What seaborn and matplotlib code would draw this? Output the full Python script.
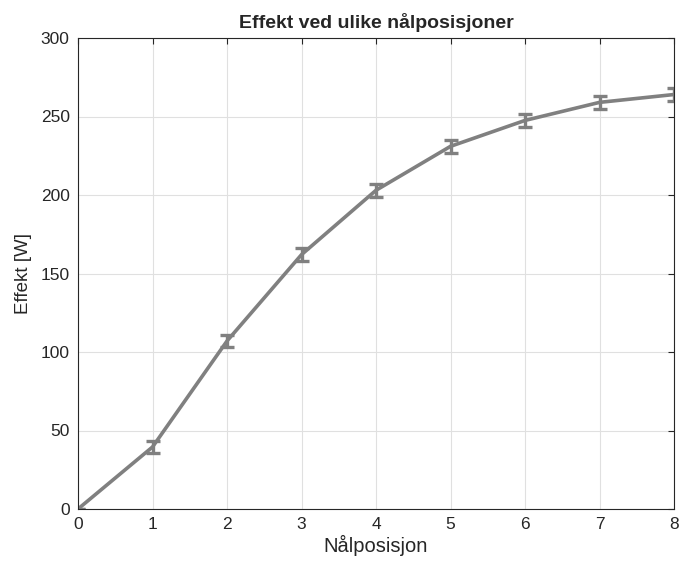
import matplotlib
matplotlib.use("Agg")
import matplotlib.pyplot as plt
import seaborn as sns
import pandas as pd

positions = [0, 1, 2, 3, 4, 5, 6, 7, 8]
power = [0, 39.5, 107, 162, 203, 231, 247.5, 259, 264]
error = [0, 4, 4, 4, 4, 4, 4, 4, 4]

df = pd.DataFrame({"pos": positions, "P": power, "err": error})

sns.set_style("whitegrid")
plt.rcParams['font.family'] = ['Liberation Sans', 'DejaVu Sans']

fig = plt.figure(figsize=(6.81, 5.68), dpi=100)
ax = fig.add_axes([78/681, 1-509/568, (674-78)/681, (509-38)/568])

line_color = (0.5, 0.5, 0.5)
sns.lineplot(data=df, x="pos", y="P", ax=ax, color=line_color, linewidth=2.6)
ax.errorbar(df["pos"], df["P"], yerr=df["err"], fmt="none", ecolor=line_color,
            elinewidth=2.4, capsize=5, capthick=2.4)

ax.set_xlim(0, 8)
ax.set_ylim(0, 300)
ax.set_xticks(range(0, 9))
ax.set_yticks(range(0, 301, 50))
ax.grid(True, color=(0.88, 0.88, 0.88), linewidth=0.8)
for s in ax.spines.values():
    s.set_visible(True)
    s.set_color((0.15, 0.15, 0.15))
    s.set_linewidth(0.8)
ax.tick_params(direction="in", length=4, width=0.8, colors=(0.15, 0.15, 0.15),
               labelsize=12.5, top=True, right=True, labelcolor=(0.15, 0.15, 0.15), pad=6)
ax.set_xlabel("Nålposisjon", fontsize=14.5, color=(0.15, 0.15, 0.15), labelpad=2)
ax.set_ylabel("Effekt [W]", fontsize=13.5, color=(0.15, 0.15, 0.15), labelpad=6)
ax.set_title("Effekt ved ulike nålposisjoner", fontsize=14, fontweight="bold", pad=7)

fig.savefig("out.png", dpi=100)
